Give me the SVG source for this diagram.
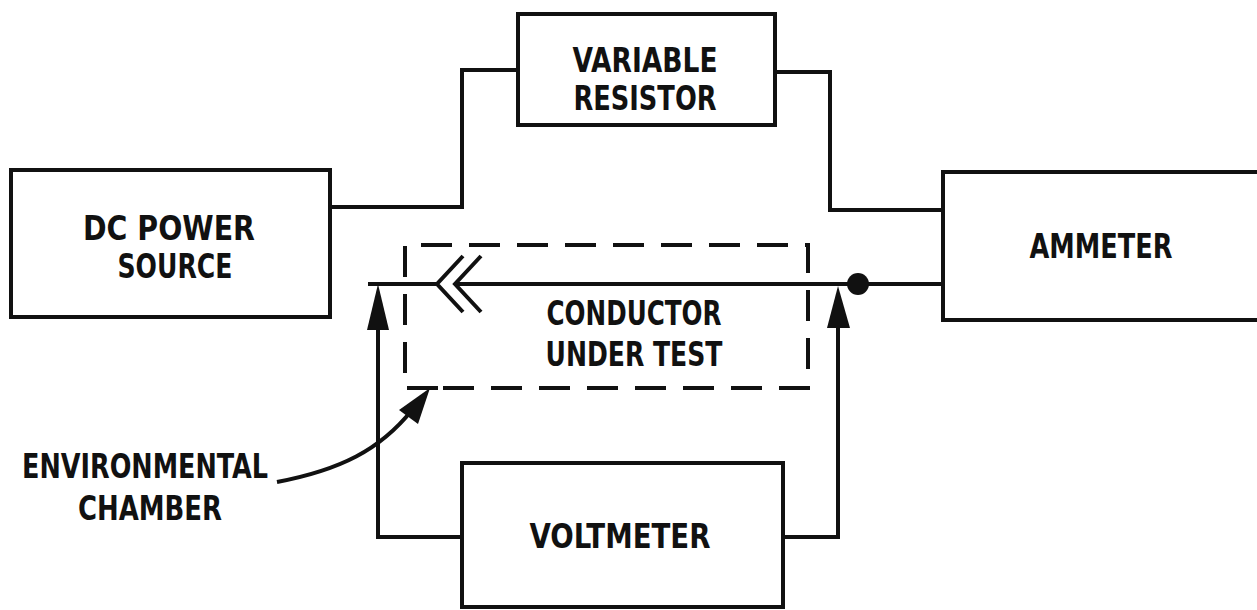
<svg xmlns="http://www.w3.org/2000/svg" width="1257" height="610" viewBox="0 0 1257 610">
<style>
.box{fill:#fff;stroke:#111;stroke-width:4}
.w{fill:none;stroke:#111;stroke-width:4;stroke-linejoin:miter}
.dash{fill:none;stroke:#111;stroke-width:4;stroke-dasharray:31 17}
.t{font-family:"DejaVu Sans Condensed","DejaVu Sans",sans-serif;font-weight:bold;font-size:34px;fill:#111;text-anchor:middle}
.ah{fill:#111}
</style>
<rect width="1257" height="610" fill="#fff"/>
<g id="connectors">
<polyline class="w" points="330,207 462,207 462,70 518,70"/>
<polyline class="w" points="775,72 830,72 830,210 943,210"/>
<line class="w" x1="368" y1="284" x2="437" y2="284"/>
<line class="w" x1="455" y1="284" x2="943" y2="284"/>
<polyline class="w" points="463,256 437,284 463,312"/>
<polyline class="w" points="481,256 455,284 481,312"/>
<circle cx="858" cy="284" r="11" fill="#111"/>
<polyline class="w" points="462,537 378,537 378,325"/>
<polygon class="ah" points="378,284 367,330 389,330"/>
<polyline class="w" points="783,537 838,537 838,325"/>
<polygon class="ah" points="838,286 827,328 850,328"/>
<path class="w" d="M277,482 C340,470 380,450 412,410"/>
<polygon class="ah" points="430,388 399,410 418,424"/>
</g>
<g id="chamber">
<path class="dash" d="M438,388 L405,388 L405,245 L808,245 L808,388 L438,388"/>
</g>
<g id="dc-power-source">
<rect class="box" x="11" y="170" width="319" height="147"/>
<text class="t" x="169" y="240" textLength="172" lengthAdjust="spacingAndGlyphs">DC POWER</text>
<text class="t" x="175" y="278" textLength="115" lengthAdjust="spacingAndGlyphs">SOURCE</text>
</g>
<g id="variable-resistor">
<rect class="box" x="518" y="14" width="257" height="111"/>
<text class="t" x="645" y="72" textLength="145" lengthAdjust="spacingAndGlyphs">VARIABLE</text>
<text class="t" x="645" y="110" textLength="143" lengthAdjust="spacingAndGlyphs">RESISTOR</text>
</g>
<g id="ammeter">
<rect class="box" x="943" y="172" width="320" height="148"/>
<text class="t" x="1101" y="258" textLength="143" lengthAdjust="spacingAndGlyphs">AMMETER</text>
</g>
<g id="conductor">
<text class="t" x="634" y="325" textLength="175" lengthAdjust="spacingAndGlyphs">CONDUCTOR</text>
<text class="t" x="634" y="366" textLength="177" lengthAdjust="spacingAndGlyphs">UNDER TEST</text>
</g>
<g id="voltmeter">
<rect class="box" x="462" y="463" width="321" height="144"/>
<text class="t" x="620" y="548" textLength="181" lengthAdjust="spacingAndGlyphs">VOLTMETER</text>
</g>
<g id="environmental-chamber-label">
<text class="t" x="145" y="478" textLength="246" lengthAdjust="spacingAndGlyphs">ENVIRONMENTAL</text>
<text class="t" x="150" y="520" textLength="144" lengthAdjust="spacingAndGlyphs">CHAMBER</text>
</g>
</svg>
